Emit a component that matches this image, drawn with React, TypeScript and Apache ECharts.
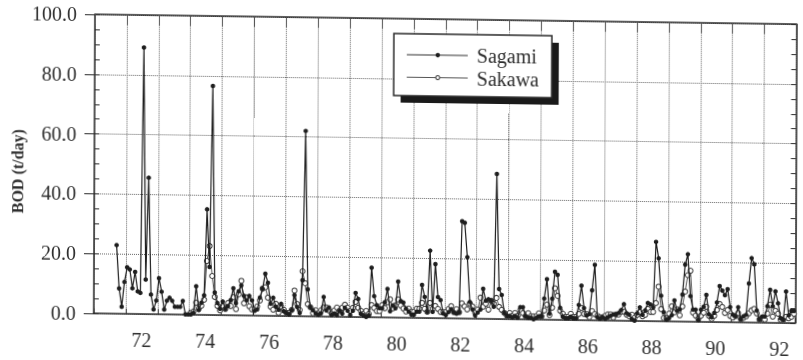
import React, { useEffect, useRef } from "react";
import * as echarts from "echarts";

// Monthly BOD load (t/day). Month axis counts from January 1971.
const SERIES_NAMES = ["Sagami", "Sakawa"];
const YEAR_LABELS = [72, 74, 76, 78, 80, 82, 84, 86, 88, 90, 92];
const Y_TICKS = [0, 20, 40, 60, 80, 100];

// Sagami: September 1971 .. December 1992
const SAGAMI_START = { year: 1971, month: 9 };
const sagami = [
  22.9, 8.4, 2.3, 10.6,
  15.5, 14.8, 8.5, 14, 7.5, 7, 89.2, 11.5, 45.6, 6.5, 1.5, 4.5,
  12, 7.5, 1.5, 4.5, 5.5, 4.5, 2.5, 2.5, 2.5, 4.5, 0, 0,
  0, 0.5, 9.5, 1.5, 4, 6.5, 35.3, 16, 76.6, 7.5, 4, 2,
  4.5, 2, 3, 5, 9, 4, 8, 10, 6.5, 5, 6.5, 5,
  1.5, 2, 6, 9, 14, 11, 4, 6, 3, 2, 4, 1.5,
  1, 0.5, 2, 7, 3, 1, 12, 62, 9, 3, 2, 1,
  0.5, 1, 6.5, 2, 3, 0.5, 1, 0.5, 2, 1, 3, 2,
  0.5, 2, 8, 6, 1, 0.5, 0, 0.5, 16.5, 7, 4, 3,
  3, 5, 9.5, 2, 4, 3, 12, 5.5, 5, 3, 2, 1,
  1, 2, 2, 11, 7, 2, 22.5, 2, 18, 7, 6, 1.5,
  1, 2, 3, 2, 1.5, 2, 32.5, 32, 20.5, 5.5, 3, 1,
  2, 3, 10, 6, 6.5, 6, 4, 48.5, 10, 8, 2, 1,
  1, 0.5, 1, 0.5, 4, 4, 1, 0.5, 0.5, 0, 0.5, 1,
  1, 7, 13.5, 2, 7, 16, 15, 4, 1, 0.5, 0.5, 1,
  0.5, 0.5, 5, 11.5, 4, 1.5, 2, 10, 18.5, 1, 0.5, 1,
  0.5, 1, 1.5, 2, 2, 2.5, 3.5, 5.5, 2.5, 2, 0.5, 0,
  2.5, 4.5, 2, 3.5, 6, 5.5, 4.5, 26.5, 21, 8.5, 3, 0.5,
  1, 2, 7, 3.5, 4, 9, 19, 22.5, 8.5, 4, 4, 0.5,
  4, 5, 9, 2.5, 1.5, 3, 6.5, 12, 10.5, 9, 11, 5,
  2.5, 2, 5, 1, 2, 2.5, 13, 21.5, 19.5, 4, 1, 2,
  2, 5.5, 11, 5.5, 10.5, 6.5, 1.5, 1, 10.5, 2.5, 4, 4,
];

// Sakawa: January 1974 .. December 1992
const SAKAWA_START = { year: 1974, month: 1 };
const sakawa = [
  0.5, 1, 4, 2, 3, 5, 18, 23, 13, 6, 3, 1.5,
  3, 2, 4, 3, 6, 2, 7, 11.5, 4, 6, 3, 2,
  2, 3, 5, 9, 9.5, 6, 3, 2, 4, 1, 3, 2,
  1, 1, 2, 8.5, 4, 2, 15, 11, 4, 3, 1, 2,
  1, 2, 3, 3, 2, 1, 2, 3, 2, 3, 4, 3,
  2, 3, 5, 3, 2, 1, 2, 1, 4, 3, 2, 2,
  4, 3, 5, 6, 3, 4, 6, 4, 3, 2, 3, 2,
  2, 3, 3, 5, 3, 2, 5, 3, 4, 3, 2, 2,
  2, 3, 4, 2, 3, 2, 5, 4, 3, 5, 4, 2,
  3, 7, 4, 5, 3, 6, 5, 7, 4, 3, 2, 1,
  2, 1, 2, 1, 3, 2, 1, 2, 1, 1, 1, 2,
  1, 3, 5, 1.5, 4, 10.5, 8, 3, 2, 1, 1, 2,
  1, 1, 2, 4, 2, 2, 1, 3, 2, 1.5, 1, 1,
  1.5, 2, 2, 1, 2, 2, 3, 3, 2, 1.5, 2, 1,
  2, 3, 1.5, 2, 4, 3, 3, 6, 11.5, 4, 1, 1,
  2.5, 5, 3, 4, 2, 5, 10, 15.5, 17, 3, 2, 1,
  2, 3, 5, 2, 1, 2, 4, 6, 5, 3, 4, 2,
  1.5, 2, 3, 1, 1.5, 2, 3, 4, 4.5, 3, 1, 1.5,
  1, 3, 6, 2, 4, 3, 1, 1, 2, 1.5, 2, 3,
];

const AXIS_START_YEAR = 1971;
const AXIS_MONTHS = 22 * 12;

function toPoints(start: { year: number; month: number }, values: number[]) {
  const first = (start.year - AXIS_START_YEAR) * 12 + (start.month - 1);
  // each value sits in the middle of its month
  return values.map((v, i) => [first + i + 0.5, v]);
}

const SERIF = "'Liberation Serif', 'Times New Roman', serif";
const INK = "#2a2a2a";
const TEXT = "#2e2e2e";

export default function App() {
  const ref = useRef<HTMLDivElement>(null);

  useEffect(() => {
    if (!ref.current) return;
    const chart = echarts.init(ref.current, undefined, { renderer: "svg" });

    const frameLine = { show: true, onZero: false, lineStyle: { color: INK, width: 1.5 } };
    const dotted = { show: true, lineStyle: { type: "dotted", color: "#666", width: 1 } };

    const yearLabel = (v: number) => {
      if (v % 24 !== 18) return "";
      const y = 71 + (v - 6) / 12;
      return YEAR_LABELS.includes(y) ? String(y) : "";
    };

    chart.setOption({
      animation: false,
      backgroundColor: "#ffffff",
      grid: { left: 95, right: 6.5, top: 13.2, bottom: 48.2, containLabel: false },
      xAxis: [
        {
          type: "value", min: 0, max: AXIS_MONTHS, interval: 12, position: "bottom",
          axisLine: frameLine,
          axisTick: { show: true, inside: true, length: 5, lineStyle: { color: INK } },
          axisLabel: { show: false },
          splitLine: dotted,
        },
        {
          type: "value", min: 0, max: AXIS_MONTHS, interval: 12, position: "top",
          axisLine: frameLine,
          axisTick: { show: true, inside: true, length: 10, lineStyle: { color: "#555" } },
          axisLabel: { show: false },
          splitLine: { show: false },
        },
        {
          type: "value", min: 0, max: AXIS_MONTHS, interval: 6, position: "bottom",
          axisLine: { show: false, onZero: false },
          axisTick: { show: false },
          axisLabel: { formatter: yearLabel, fontFamily: SERIF, fontSize: 20, color: TEXT, margin: 16 },
          splitLine: { show: false },
        },
      ],
      yAxis: [
        {
          type: "value", min: Y_TICKS[0], max: Y_TICKS[Y_TICKS.length - 1], interval: 20, position: "left",
          axisLine: frameLine,
          axisTick: { show: true, inside: false, length: 10, lineStyle: { color: INK } },
          axisLabel: {
            formatter: (v: number) => v.toFixed(1),
            fontFamily: SERIF, fontSize: 20, color: TEXT, margin: 18,
          },
          splitLine: dotted,
        },
        {
          type: "value", min: 0, max: 100, interval: 5, position: "left",
          axisLine: { show: false, onZero: false },
          axisTick: { show: true, inside: true, length: 5, lineStyle: { color: INK } },
          axisLabel: { show: false },
          splitLine: { show: false },
        },
        {
          type: "value", min: 0, max: 100, interval: 5, position: "right",
          axisLine: frameLine,
          axisTick: { show: true, inside: true, length: 5, lineStyle: { color: INK } },
          axisLabel: { show: false },
          splitLine: { show: false },
        },
      ],
      series: [
        {
          type: "line", name: SERIES_NAMES[1], xAxisIndex: 0, yAxisIndex: 0,
          data: toPoints(SAKAWA_START, sakawa),
          symbol: "circle", symbolSize: 5, showAllSymbol: true,
          lineStyle: { color: "#555", width: 1 },
          itemStyle: { color: "#ffffff", borderColor: "#3a3a3a", borderWidth: 1 },
          z: 2,
        },
        {
          type: "line", name: SERIES_NAMES[0], xAxisIndex: 0, yAxisIndex: 0,
          data: toPoints(SAGAMI_START, sagami),
          symbol: "circle", symbolSize: 4.5, showAllSymbol: true,
          lineStyle: { color: "#1e1e1e", width: 1.2 },
          itemStyle: { color: "#1e1e1e" },
          z: 3,
        },
      ],
      graphic: [
        {
          type: "text", x: 18, y: 171, rotation: Math.PI / 2,
          style: {
            text: "BOD (t/day)", fontFamily: SERIF, fontSize: 16, fontWeight: "bold",
            fill: TEXT, align: "center", verticalAlign: "middle",
          },
        },
        { type: "rect", z: 10, shape: { x: 401, y: 35, width: 158, height: 62 }, style: { fill: "#1a1a1a" } },
        {
          type: "rect", z: 11, shape: { x: 394, y: 28, width: 158, height: 62 },
          style: { fill: "#ffffff", stroke: INK, lineWidth: 1.5 },
        },
        { type: "line", z: 12, shape: { x1: 407, y1: 49, x2: 468, y2: 49 }, style: { stroke: "#333", lineWidth: 1 } },
        { type: "circle", z: 13, shape: { cx: 438, cy: 49, r: 2.2 }, style: { fill: "#1e1e1e" } },
        {
          type: "text", z: 13, x: 477, y: 49,
          style: { text: SERIES_NAMES[0], fontFamily: SERIF, fontSize: 20, fill: TEXT, verticalAlign: "middle" },
        },
        { type: "line", z: 12, shape: { x1: 407, y1: 71.5, x2: 468, y2: 71.5 }, style: { stroke: "#555", lineWidth: 1 } },
        { type: "circle", z: 13, shape: { cx: 438, cy: 71.5, r: 2 }, style: { fill: "#ffffff", stroke: "#3a3a3a", lineWidth: 1 } },
        {
          type: "text", z: 13, x: 477, y: 71.5,
          style: { text: SERIES_NAMES[1], fontFamily: SERIF, fontSize: 20, fill: TEXT, verticalAlign: "middle" },
        },
      ],
    });

    return () => chart.dispose();
  }, []);

  return (
    <div
      ref={ref}
      style={{
        position: "fixed",
        left: 0,
        top: 0,
        width: 803,
        height: 360,
        transformOrigin: "0 0",
        transform: "matrix(1, 0.014, -0.004, 1, 0, 0)",
      }}
    />
  );
}
